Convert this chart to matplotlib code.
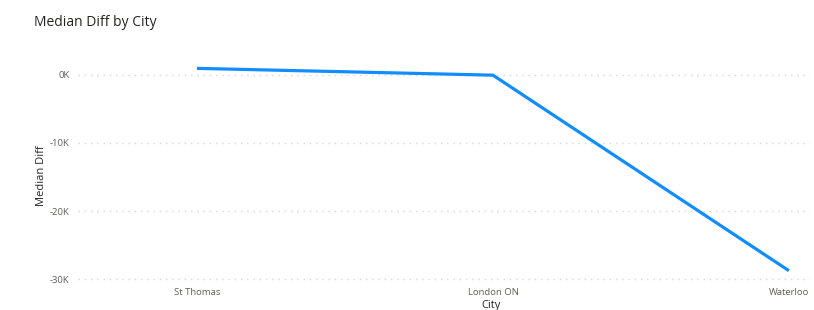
import matplotlib
matplotlib.use('Agg')
import matplotlib.pyplot as plt
from matplotlib.ticker import FuncFormatter

plt.rcParams['font.family'] = ['Open Sans', 'DejaVu Sans']

# data
cities = ['St Thomas', 'London ON', 'Waterloo']
median_diff = [940, -60, -28740]
y_ticks = [0, -10000, -20000, -30000]

fig = plt.figure(figsize=(8.14, 3.10), dpi=100)
ax = fig.add_axes([0.0958, 0.0903, 0.8992, 0.7323])

x = range(len(cities))
ax.plot(x, median_diff, color='#118DFF', lw=2.3, solid_capstyle='butt', solid_joinstyle='miter')

ax.set_xlim(-0.402, 2.071)
ax.set_ylim(-30400, 2900)
ax.set_yticks(y_ticks)
ax.yaxis.set_major_formatter(FuncFormatter(lambda v, p: '%dK' % (v / 1000)))
ax.set_xticks(list(x))
ax.set_xticklabels(cities)

ax.grid(axis='y', color='#D6D6D6', linestyle=(0, (1, 3.5)), lw=1)
ax.set_axisbelow(True)
for s in ax.spines.values():
    s.set_visible(False)
ax.tick_params(length=0, labelsize=6.8, colors='#605E5C')
ax.tick_params(axis='y', pad=6)
ax.tick_params(axis='x', pad=4)

ax.set_xlabel('City', fontsize=8, color='#252423')
ax.xaxis.set_label_coords(0.564, -0.08)
ax.set_ylabel('Median Diff', fontsize=8, color='#252423')
ax.yaxis.set_label_coords(-0.043, 0.47)

fig.text(34 / 814, 1 - 22 / 310, 'Median Diff by City', fontsize=10, color='#252423', va='center', ha='left')

fig.savefig('out.png', dpi=100)
